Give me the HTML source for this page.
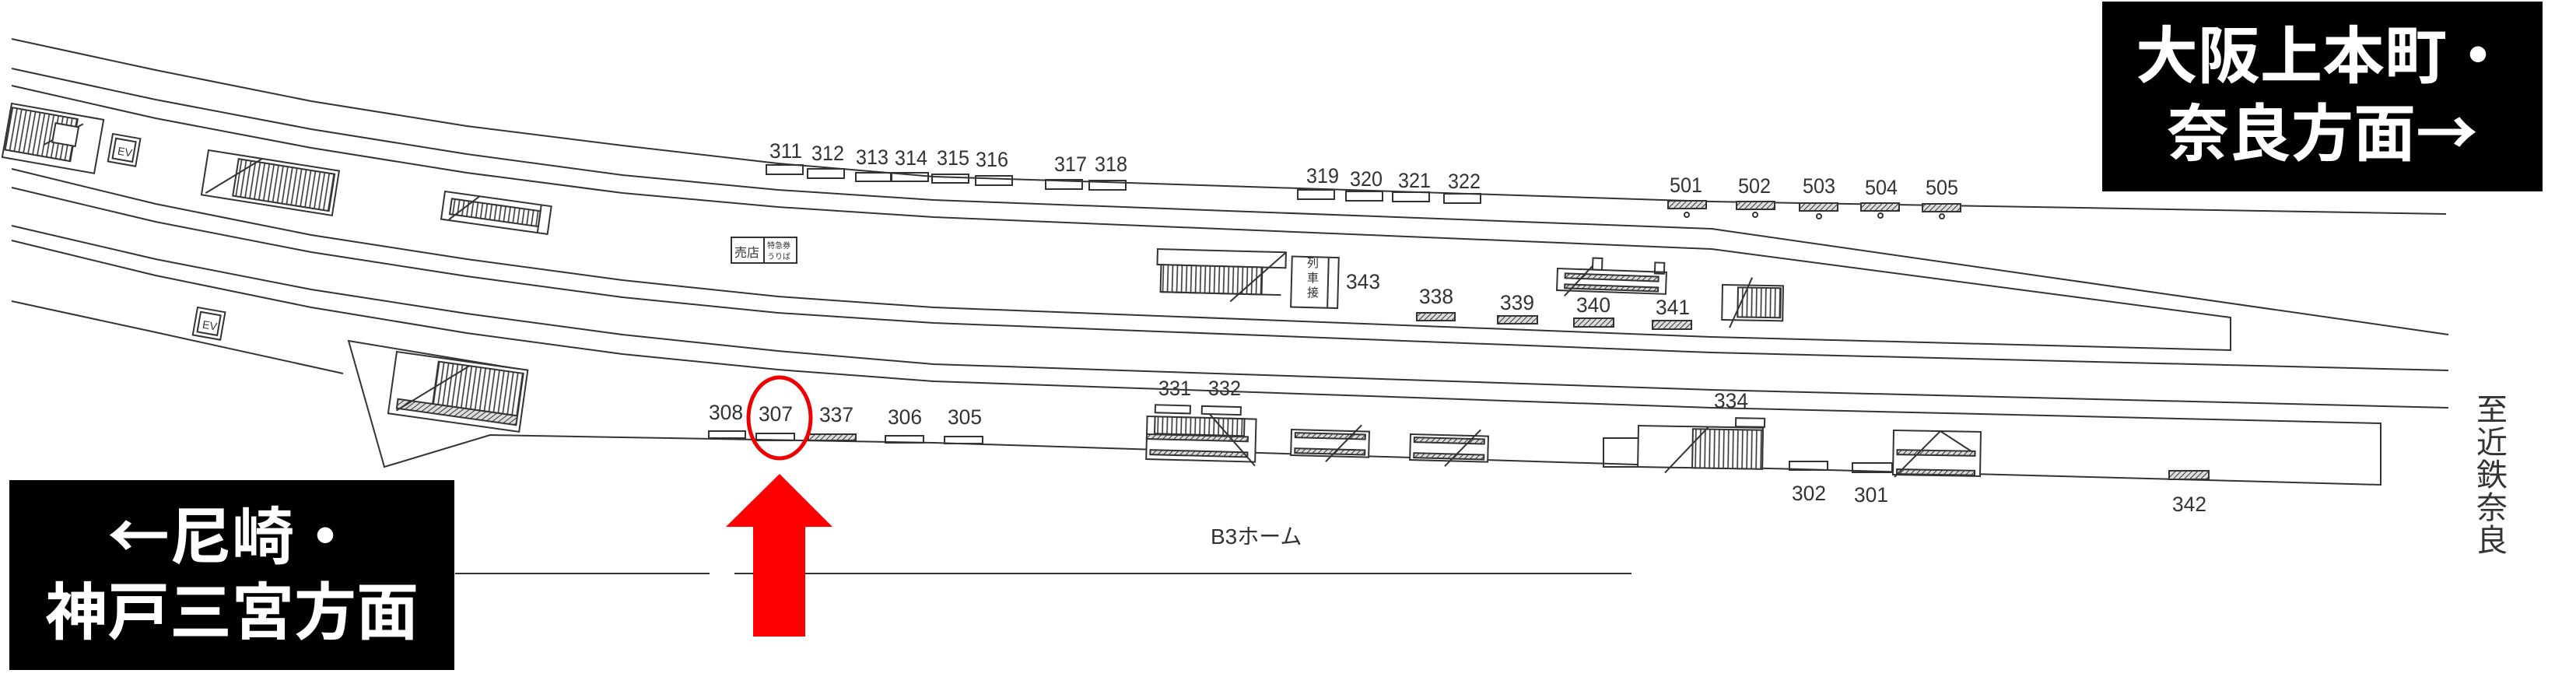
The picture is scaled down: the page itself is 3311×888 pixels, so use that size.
<!DOCTYPE html>
<html><head><meta charset="utf-8"><style>
html,body{margin:0;padding:0;background:#fff;}
svg{display:block;}
.n{font-family:"Liberation Sans",sans-serif;font-size:27px;fill:#333;}
.j{font-family:"Liberation Sans","Noto Sans CJK JP",sans-serif;}
.cj{font-family:"Noto Sans CJK JP",sans-serif;}
</style></head><body>
<svg width="3311" height="888" viewBox="0 0 3311 888" xmlns="http://www.w3.org/2000/svg">
<defs>
<pattern id="v" width="6" height="10" patternUnits="userSpaceOnUse"><rect width="6" height="10" fill="#fff"/><line x1="2" y1="0" x2="2" y2="10" stroke="#333" stroke-width="1.6"/></pattern>
<pattern id="d" width="5" height="5" patternUnits="userSpaceOnUse" patternTransform="rotate(45)"><rect width="5" height="5" fill="#ddd"/><line x1="0" y1="0" x2="0" y2="5" stroke="#333" stroke-width="2"/></pattern>
</defs>
<g fill="none" stroke="#333" stroke-width="2">
<polyline points="15,50 200,90 400,130 600,162 800,187 1000,210 1200,227 2200,259 3144,275"/>
<polyline points="15,88 200,128 400,166 600,198 800,225 1000,244 1200,257 2200,294 3147,430"/>
<polyline points="15,110 200,152 400,190 600,222 800,248 1000,266 1200,279 2200,320 2867,408 2867,450 2200,433 1200,395 1000,381 800,360 600,333 400,302 200,262 15,217"/>
<polyline points="15,241 200,285 400,324 600,355 800,382 1000,402 1200,415 2200,453 3147,476"/>
<polyline points="15,290 200,333 400,372 600,403 800,430 1000,451 1200,468 2200,501 3147,524"/>
<polyline points="15,309 200,354 400,395 600,428 800,455 1000,475 1200,490 2200,524 3060,544 3060,623 2200,600 1200,569 630,559 494,600 448,438 677,476"/>
<polyline points="15,387 200,427 441,480"/>
<line x1="585" y1="737" x2="912" y2="737"/>
<line x1="944" y1="737" x2="2097" y2="737"/>
</g>
<g stroke="#333" stroke-width="2" fill="none">
<g transform="translate(15,133) rotate(10)"><rect x="0" y="0" width="120" height="70" fill="#fff"/><rect x="2" y="5" width="85" height="55" fill="url(#v)"/><line x1="50" y1="45" x2="95" y2="10"/><rect x="60" y="15" width="30" height="25" fill="#fff"/></g>
<g transform="translate(145,172) rotate(10)"><rect width="36" height="36"/><rect x="5" y="5" width="26" height="26"/><text x="10" y="25" font-size="14" fill="#333" stroke="none" font-family="Liberation Sans">EV</text></g>
<g transform="translate(268,193) rotate(9)"><rect width="170" height="58" fill="#fff"/><rect x="40" y="5" width="125" height="48" fill="url(#v)"/><line x1="5" y1="55" x2="70" y2="0"/></g>
<g transform="translate(572,246) rotate(8)"><rect width="138" height="36"/><rect x="10" y="8" width="115" height="20" fill="url(#v)"/><line x1="10" y1="35" x2="45" y2="0"/><line x1="125" y1="0" x2="125" y2="36"/></g>
<g transform="translate(254,395) rotate(10)"><rect width="36" height="36"/><rect x="5" y="5" width="26" height="26"/><text x="10" y="25" font-size="14" fill="#333" stroke="none" font-family="Liberation Sans">EV</text></g>
<g transform="translate(510,452) rotate(8)"><rect width="170" height="80" fill="#fff"/><rect x="55" y="5" width="110" height="55" fill="url(#v)"/><rect x="10" y="60" width="155" height="12" fill="url(#d)"/><line x1="10" y1="75" x2="95" y2="5"/></g>
<rect x="940" y="305" width="42" height="33" fill="#fff"/><text x="944" y="330" class="j" font-size="16" fill="#333" stroke="none">売店</text>
<rect x="982" y="305" width="42" height="33"/><text x="986" y="319" class="j" font-size="10" fill="#333" stroke="none">特急券</text><text x="986" y="333" class="j" font-size="10" fill="#333" stroke="none">うりば</text>
<rect x="985" y="212" width="47" height="12"/><rect x="1038" y="217" width="47" height="12"/><rect x="1100" y="222" width="45" height="11"/>
<rect x="1146" y="222" width="47" height="11"/><rect x="1198" y="224" width="47" height="11"/><rect x="1254" y="226" width="47" height="12"/>
<rect x="1344" y="231" width="47" height="12"/><rect x="1400" y="232" width="47" height="12"/>
<rect x="1668" y="244" width="47" height="12"/><rect x="1730" y="246" width="47" height="12"/><rect x="1790" y="247" width="47" height="12"/><rect x="1856" y="249" width="47" height="12"/>
<g fill="url(#d)"><rect x="2144" y="258" width="49" height="10"/><rect x="2232" y="259" width="49" height="10"/><rect x="2313" y="261" width="49" height="10"/><rect x="2392" y="261" width="49" height="10"/><rect x="2471" y="262" width="49" height="10"/></g>
<g><circle cx="2168" cy="276" r="3"/><circle cx="2256" cy="276" r="3"/><circle cx="2338" cy="278" r="3"/><circle cx="2417" cy="277" r="3"/><circle cx="2496" cy="278" r="3"/></g>
<g fill="url(#d)"><rect x="1821" y="402" width="49" height="10"/><rect x="1925" y="406" width="51" height="10"/><rect x="2023" y="409" width="51" height="11"/><rect x="2124" y="412" width="50" height="11"/></g>
<g transform="translate(1488,320) rotate(1.5)"><rect width="165" height="20" fill="#fff"/><rect x="5" y="20" width="130" height="35" fill="url(#v)"/><line x1="5" y1="55" x2="160" y2="55"/><line x1="95" y1="65" x2="165" y2="0"/><rect x="173" y="5" width="60" height="65" fill="#fff"/><line x1="220" y1="5" x2="220" y2="70"/></g>
<text x="1680" y="343" class="j" font-size="15" fill="#333" stroke="none">列</text><text x="1680" y="362" class="j" font-size="15" fill="#333" stroke="none">車</text><text x="1680" y="381" class="j" font-size="15" fill="#333" stroke="none">接</text>
<g transform="translate(2002,345) rotate(2)"><rect width="140" height="28" fill="#fff"/><rect x="10" y="6" width="120" height="6" fill="url(#d)"/><rect x="10" y="20" width="120" height="5" fill="url(#d)"/><line x1="10" y1="35" x2="45" y2="-5"/><rect x="45" y="-15" width="12" height="15"/><rect x="125" y="-12" width="12" height="14"/></g>
<g transform="translate(2214,366) rotate(1)"><rect width="78" height="45" fill="#fff"/><rect x="20" y="3" width="55" height="38" fill="url(#v)"/><line x1="10" y1="55" x2="38" y2="-10"/></g>
<rect x="911" y="554" width="47" height="9"/><rect x="972" y="557" width="49" height="9"/><rect x="1039" y="558" width="61" height="8" fill="url(#d)"/>
<rect x="1138" y="560" width="49" height="9"/><rect x="1214" y="561" width="49" height="9"/>
<g transform="translate(1475,520) rotate(1.5)"><rect x="10" y="0" width="45" height="10"/><rect x="70" y="0" width="50" height="10"/><rect x="0" y="15" width="140" height="55" fill="#fff"/><rect x="10" y="15" width="115" height="22" fill="url(#v)"/><rect x="0" y="38" width="130" height="6" fill="url(#d)"/><rect x="5" y="58" width="125" height="6" fill="url(#d)"/><line x1="80" y1="10" x2="140" y2="75"/></g>
<g transform="translate(1660,552) rotate(1.5)"><rect width="100" height="33" fill="#fff"/><rect x="5" y="4" width="90" height="6" fill="url(#d)"/><rect x="5" y="24" width="90" height="6" fill="url(#d)"/><line x1="45" y1="40" x2="90" y2="-8"/></g>
<g transform="translate(1813,558) rotate(1.5)"><rect width="100" height="33" fill="#fff"/><rect x="5" y="4" width="90" height="6" fill="url(#d)"/><rect x="5" y="24" width="90" height="6" fill="url(#d)"/><line x1="45" y1="40" x2="90" y2="-8"/></g>
<rect x="2061" y="563" width="45" height="37"/>
<g transform="translate(2106,547) rotate(1)"><rect width="160" height="53" fill="#fff"/><rect x="70" y="3" width="90" height="50" fill="url(#v)"/><line x1="35" y1="60" x2="90" y2="0"/><rect x="125" y="-12" width="37" height="11" fill="#fff"/></g>
<rect x="2300" y="593" width="49" height="11"/><rect x="2381" y="595" width="51" height="12"/>
<g transform="translate(2434,553) rotate(1)"><rect width="112" height="57" fill="#fff"/><rect x="5" y="25" width="100" height="6" fill="url(#d)"/><rect x="5" y="50" width="100" height="6" fill="url(#d)"/><line x1="60" y1="0" x2="100" y2="25"/><line x1="2" y1="60" x2="60" y2="0"/></g>
<rect x="2788" y="605" width="51" height="11" fill="url(#d)"/>
</g>
<g class="n">
<text x="989" y="203" textLength="42" lengthAdjust="spacingAndGlyphs">311</text>
<text x="1043" y="206" textLength="42" lengthAdjust="spacingAndGlyphs">312</text>
<text x="1100" y="211" textLength="42" lengthAdjust="spacingAndGlyphs">313</text>
<text x="1150" y="212" textLength="42" lengthAdjust="spacingAndGlyphs">314</text>
<text x="1204" y="212" textLength="42" lengthAdjust="spacingAndGlyphs">315</text>
<text x="1254" y="214" textLength="42" lengthAdjust="spacingAndGlyphs">316</text>
<text x="1355" y="220" textLength="42" lengthAdjust="spacingAndGlyphs">317</text>
<text x="1407" y="220" textLength="42" lengthAdjust="spacingAndGlyphs">318</text>
<text x="1679" y="235" textLength="42" lengthAdjust="spacingAndGlyphs">319</text>
<text x="1735" y="239" textLength="42" lengthAdjust="spacingAndGlyphs">320</text>
<text x="1797" y="241" textLength="42" lengthAdjust="spacingAndGlyphs">321</text>
<text x="1861" y="242" textLength="42" lengthAdjust="spacingAndGlyphs">322</text>
<text x="2146" y="247" textLength="42" lengthAdjust="spacingAndGlyphs">501</text>
<text x="2234" y="248" textLength="42" lengthAdjust="spacingAndGlyphs">502</text>
<text x="2317" y="248" textLength="42" lengthAdjust="spacingAndGlyphs">503</text>
<text x="2397" y="250" textLength="42" lengthAdjust="spacingAndGlyphs">504</text>
<text x="2475" y="250" textLength="42" lengthAdjust="spacingAndGlyphs">505</text>
<text x="1730" y="371" textLength="44" lengthAdjust="spacingAndGlyphs">343</text>
<text x="1824" y="390" textLength="44" lengthAdjust="spacingAndGlyphs">338</text>
<text x="1928" y="398" textLength="44" lengthAdjust="spacingAndGlyphs">339</text>
<text x="2026" y="401" textLength="44" lengthAdjust="spacingAndGlyphs">340</text>
<text x="2128" y="404" textLength="44" lengthAdjust="spacingAndGlyphs">341</text>
<text x="1489" y="508" textLength="42" lengthAdjust="spacingAndGlyphs">331</text>
<text x="1553" y="508" textLength="42" lengthAdjust="spacingAndGlyphs">332</text>
<text x="2203" y="524" textLength="44" lengthAdjust="spacingAndGlyphs">334</text>
<text x="911" y="539" textLength="44" lengthAdjust="spacingAndGlyphs">308</text>
<text x="975" y="541" textLength="44" lengthAdjust="spacingAndGlyphs">307</text>
<text x="1053" y="542" textLength="44" lengthAdjust="spacingAndGlyphs">337</text>
<text x="1141" y="545" textLength="44" lengthAdjust="spacingAndGlyphs">306</text>
<text x="1218" y="545" textLength="44" lengthAdjust="spacingAndGlyphs">305</text>
<text x="2303" y="643" textLength="44" lengthAdjust="spacingAndGlyphs">302</text>
<text x="2383" y="645" textLength="44" lengthAdjust="spacingAndGlyphs">301</text>
<text x="2792" y="657" textLength="44" lengthAdjust="spacingAndGlyphs">342</text>
</g>
<text x="1556" y="699" class="j" font-size="28" fill="#333">B3ホーム</text>
<g class="j" font-size="40" fill="#333" text-anchor="middle">
<text x="3203" y="540">至</text><text x="3203" y="582">近</text><text x="3203" y="624">鉄</text><text x="3203" y="666">奈</text><text x="3203" y="708">良</text>
</g>
<ellipse cx="1002" cy="537" rx="40" ry="52" fill="none" stroke="#e00" stroke-width="5"/>
<polygon points="1002,609 1070,677 1035,677 1035,818 968,818 968,677 933,677" fill="#f00"/>
<rect x="12" y="617" width="572" height="244" fill="#000"/>
<text x="298" y="718" class="cj" font-size="80" font-weight="bold" fill="#fff" text-anchor="middle">←尼崎・</text>
<text x="298" y="815" class="cj" font-size="80" font-weight="bold" fill="#fff" text-anchor="middle">神戸三宮方面</text>
<rect x="2702" y="2" width="566" height="244" fill="#000"/>
<text x="2985" y="100" class="cj" font-size="80" font-weight="bold" fill="#fff" text-anchor="middle">大阪上本町・</text>
<text x="2985" y="200" class="cj" font-size="80" font-weight="bold" fill="#fff" text-anchor="middle">奈良方面→</text>
</svg>
</body></html>
